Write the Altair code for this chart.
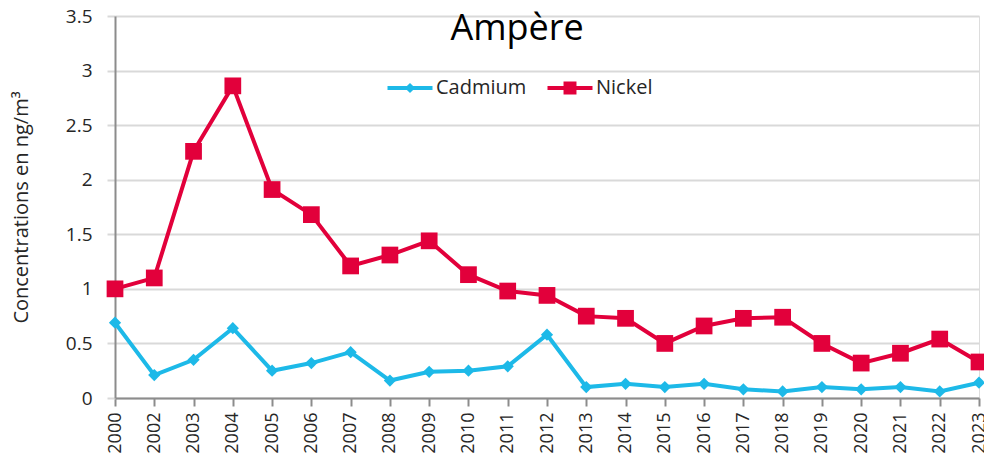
import altair as alt
import pandas as pd

years = ["2000", "2002", "2003", "2004", "2005", "2006", "2007", "2008", "2009", "2010",
         "2011", "2012", "2013", "2014", "2015", "2016", "2017", "2018", "2019", "2020",
         "2021", "2022", "2023"]
cadmium = [0.69, 0.21, 0.35, 0.64, 0.25, 0.32, 0.42, 0.16, 0.24, 0.25,
           0.29, 0.58, 0.10, 0.13, 0.10, 0.13, 0.08, 0.06, 0.10, 0.08,
           0.10, 0.06, 0.14]
nickel = [1.00, 1.10, 2.26, 2.86, 1.91, 1.68, 1.21, 1.31, 1.44, 1.13,
          0.98, 0.94, 0.75, 0.73, 0.50, 0.66, 0.73, 0.74, 0.50, 0.32,
          0.41, 0.54, 0.33]
series = ["Cadmium", "Nickel"]
colors = ["#1DB9E8", "#E2003B"]
title_text = ["Ampère"]
y_ticks = [0, 0.5, 1, 1.5, 2, 2.5, 3, 3.5]

df = pd.concat([
    pd.DataFrame({"Year": years, "Value": cadmium, "Series": "Cadmium"}),
    pd.DataFrame({"Year": years, "Value": nickel, "Series": "Nickel"}),
])

FONT = "Open Sans"
TXT = "#262626"

x = alt.X("Year:O", sort=years, title=None,
          scale=alt.Scale(type="point", padding=0),
          axis=alt.Axis(labelAngle=-90, labelFontSize=18, labelFont=FONT, labelColor=TXT,
                        tickSize=8, tickColor="#8c8c8c", tickWidth=2,
                        domainColor="#8c8c8c", domainWidth=2, labelPadding=6,
                        grid=False))
y = alt.Y("Value:Q", title="Concentrations en ng/m³",
          scale=alt.Scale(domain=[0, 3.5], nice=False),
          axis=alt.Axis(values=y_ticks, format=".1~f", labelFontSize=19,
                        labelFont=FONT, labelColor=TXT, tickSize=8, tickColor="#d9d9d9",
                        tickWidth=2, domainColor="#8c8c8c", domainWidth=2,
                        labelPadding=15, gridColor="#d9d9d9", gridWidth=2,
                        titleFont=FONT, titleFontSize=20, titleFontWeight="normal",
                        titleColor=TXT, titlePadding=34))

color = alt.Color("Series:N", scale=alt.Scale(domain=series, range=colors), legend=None)

lines = alt.Chart(df).mark_line(strokeWidth=4).encode(x=x, y=y, color=color)
points = alt.Chart(df).mark_point(filled=True, opacity=1).encode(
    x=x, y=y, color=color,
    shape=alt.Shape("Series:N", scale=alt.Scale(domain=series, range=["diamond", "square"]), legend=None),
    size=alt.Size("Series:N", scale=alt.Scale(domain=series, range=[150, 280]), legend=None),
)

title = alt.Chart(pd.DataFrame({"t": title_text})).mark_text(
    font=FONT, fontSize=36, color="#000000", align="center", baseline="alphabetic"
).encode(x=alt.value(402), y=alt.value(24), text="t:N")

cad_sym = "M-3.75,-0.33H3.75V0.33H-3.75Z M0,-0.85L0.85,0L0,0.85L-0.85,0Z"
nic_sym = "M-3.75,-0.33H3.75V0.33H-3.75Z M-1.08,-1.08H1.08V1.08H-1.08Z"

legend = alt.Legend(title=None, orient="none", direction="horizontal", legendX=285, legendY=62,
                    labelFont=FONT, labelFontSize=20, labelColor=TXT, symbolSize=144,
                    labelOffset=16, columnPadding=20, padding=0, symbolStrokeWidth=0)

legend_layer = alt.Chart(df).transform_filter("false").mark_point(filled=True, opacity=1).encode(
    color=alt.Color("Series:N", scale=alt.Scale(domain=series, range=colors), legend=legend),
    shape=alt.Shape("Series:N", scale=alt.Scale(domain=series, range=[cad_sym, nic_sym]), legend=legend),
)

chart = alt.layer(alt.layer(lines, points, title), legend_layer).resolve_scale(
    color="independent", shape="independent"
).properties(
    width=864, height=382,
    autosize=alt.AutoSizeParams(type="none"),
    padding={"left": 107, "top": 8, "right": 5, "bottom": 57},
).configure_view(stroke=None).configure(background="white")

chart.save("out.html", embed_options={"renderer": "svg", "actions": False})
